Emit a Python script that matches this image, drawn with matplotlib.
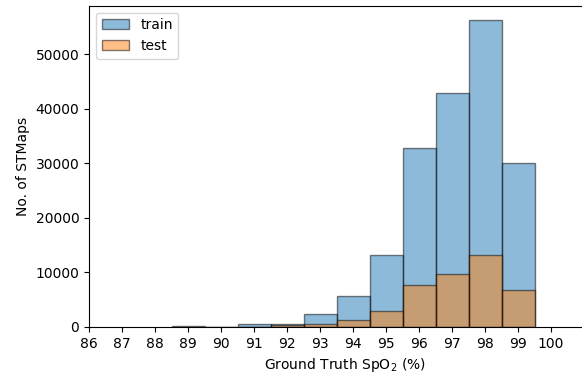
import matplotlib
matplotlib.use("Agg")
import matplotlib.pyplot as plt

spo2 = [89, 90, 91, 92, 93, 94, 95, 96, 97, 98, 99]
train_counts = [150, 0, 500, 450, 2300, 5700, 13200, 32800, 42900, 56200, 30000]
test_counts = [0, 0, 0, 400, 500, 1300, 2900, 7700, 9700, 13200, 6800]
xticks = list(range(86, 101))

fig = plt.figure(figsize=(5.82, 3.81), dpi=100)
ax = fig.add_axes([0.153, 0.142, 0.879, 0.843])

ax.bar(spo2, train_counts, width=1.0, color="#1f77b4", alpha=0.5,
       edgecolor="black", linewidth=1.0, label="train")
ax.bar(spo2, test_counts, width=1.0, color="#ff7f0e", alpha=0.5,
       edgecolor="black", linewidth=1.0, label="test")

ax.set_xlim(86, 101.5)
ax.set_ylim(0, 58900)
ax.set_xticks(xticks)
ax.set_yticks([0, 10000, 20000, 30000, 40000, 50000])
ax.set_xlabel("Ground Truth SpO$_2$ (%)")
ax.set_ylabel("No. of STMaps")
ax.legend(loc="upper left")

fig.savefig("out.png", dpi=100)
